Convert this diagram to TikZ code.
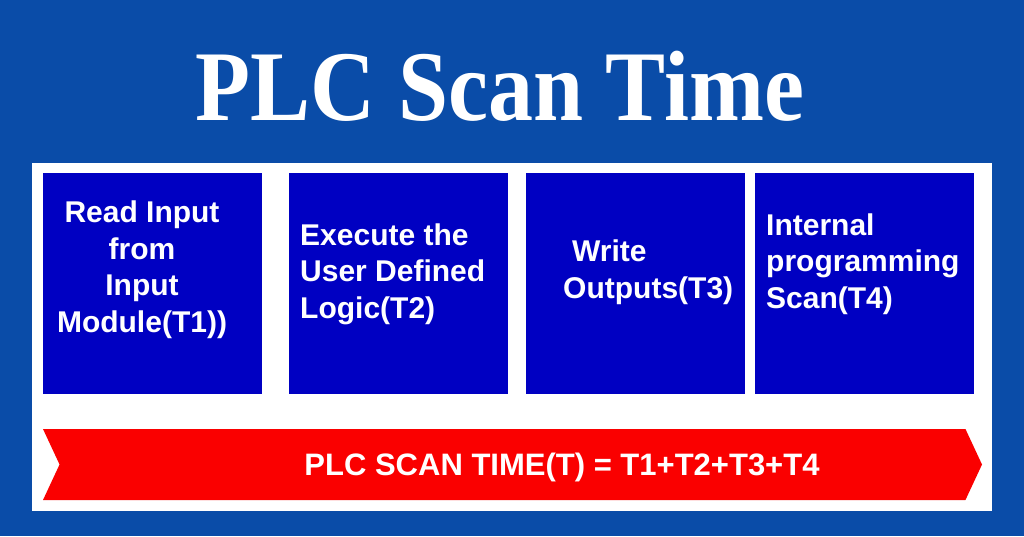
\documentclass[tikz,border=0pt]{standalone}
\usepackage{fontspec}
\setmainfont{Liberation Sans}
\newfontfamily\titlefont{Liberation Serif}
\usetikzlibrary{shapes.symbols}
\definecolor{bgblue}{HTML}{0A4CA8}
\definecolor{boxblue}{HTML}{0000C2}
\definecolor{bannerred}{HTML}{FA0000}

\begin{document}
\begin{tikzpicture}[x=1pt,y=-1pt,
    blockbox/.style={fill=boxblue,minimum width=219pt,minimum height=221pt,anchor=north west,inner sep=0pt},
    blocktext/.style={text=white,font=\fontsize{30}{36.5}\selectfont\bfseries,inner sep=0pt,anchor=base west,align=left}]
    \path[use as bounding box,fill=bgblue] (0,0) rectangle (1024,536);
    \node[text=white,font=\titlefont\fontsize{100}{110}\selectfont\bfseries,xscale=.9,anchor=base] (title) at (500,120) {PLC Scan Time};
    \node[fill=white,minimum width=960pt,minimum height=348pt,anchor=north west,inner sep=0pt] (panel) at (32,163) {};
    \foreach \i/\x in {1/43,2/289,3/526,4/755}{
    \node[blockbox] (box\i) at (\x,173) {};
    }
    % base anchor = last line
    \node[blocktext,anchor=base,align=center] (read) at ([xshift=99pt,yshift=-159pt]box1.north west) {Read Input\\from\\Input\\Module(T1))};
    \node[blocktext] (exec) at ([xshift=11pt,yshift=-145pt]box2.north west) {Execute the\\User Defined\\Logic(T2)};
    \node[blocktext] (write) at ([xshift=37pt,yshift=-125pt]box3.north west) {\hspace*{9pt}Write\\Outputs(T3)};
    \node[blocktext] (internal) at ([xshift=11pt,yshift=-135pt]box4.north west) {Internal\\programming\\Scan(T4)};
    % total scan time banner
    \node[signal,signal to=east,signal from=west,signal pointer angle=130,fill=bannerred,minimum width=939pt,minimum height=71pt,inner sep=0pt] (banner) at (512.5,464.5) {};
    \node[text=white,font=\fontsize{31}{36}\selectfont\bfseries,inner sep=0pt,anchor=base] (total) at ([xshift=49.5pt,yshift=-10.5pt]banner.center) {PLC SCAN TIME(T) = T1+T2+T3+T4};
\end{tikzpicture}
\end{document}
